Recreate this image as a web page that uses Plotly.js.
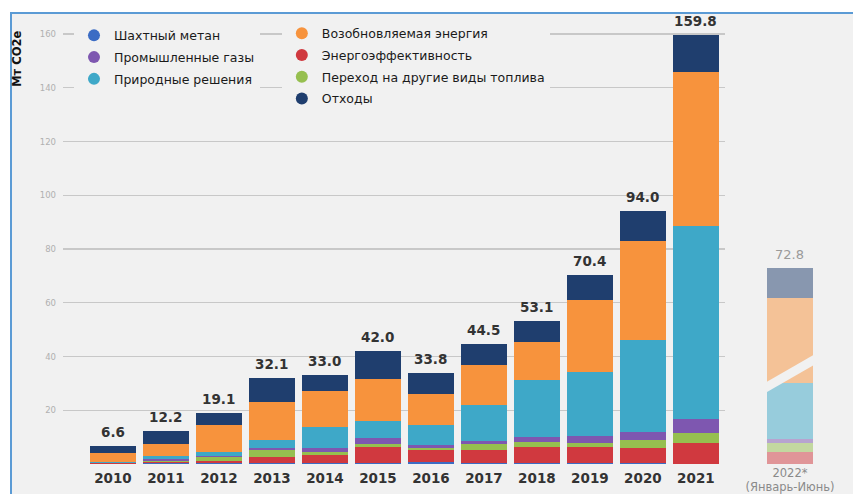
<!DOCTYPE html>
<html>
<head>
<meta charset="utf-8">
<script src="https://cdn.plot.ly/plotly-3.0.1.min.js"></script>
<style>
  html, body { margin: 0; padding: 0; background: #ffffff; }
  #frame { position: absolute; left: 10px; top: 12px; width: 843px; height: 482px;
           background: #f1f1f1; border-top: 2px solid #5b9bd5; border-left: 2px solid #5b9bd5; box-sizing: border-box; }
  #chart { position: absolute; left: 0; top: 0; width: 853px; height: 494px; }
</style>
</head>
<body>
<div id="frame"></div>
<div id="chart"></div>
<script>
// ---- data ----
const years = ['2010','2011','2012','2013','2014','2015','2016','2017','2018','2019','2020','2021'];
const methane       = [0.1,0.2,0.2,0.2,0.2,0.4,0.7,0.4,0.4,0.2,0.3,0.0];
const energyEff     = [0.2,0.6,1.1,2.5,3.2,5.8,4.4,4.8,6.0,6.2,5.7,7.7];
const fuelSwitch    = [0.1,0.5,1.2,2.5,1.0,1.2,0.9,2.3,1.9,1.6,2.9,3.7];
const industrialGas = [0.1,0.6,0.6,0.6,1.5,2.2,1.0,1.0,1.9,2.5,2.9,5.2];
const nature        = [0.2,1.2,1.5,3.0,7.8,6.5,7.6,13.6,21.2,23.8,34.5,72.0];
const renewable     = [3.3,4.5,10.0,14.3,13.3,15.6,11.6,14.8,13.9,26.7,36.6,57.1];
const waste         = [2.6,4.6,4.5,9.0,6.0,10.3,7.6,7.6,7.8,9.4,11.1,14.1];
const totals        = [6.6,12.2,19.1,32.1,33.0,42.0,33.8,44.5,53.1,70.4,94.0,159.8];

const period2022 = ['2022*<br>(Январь-Июнь)'];
const methane22 = [0.0], energyEff22 = [4.3], fuelSwitch22 = [3.4], industrialGas22 = [1.6],
      nature22 = [20.7], renewable22 = [31.9], waste22 = [10.9];
const total22 = [72.8];

const yTicks = [20,40,60,80,100,120,140,160];

// ---- series definitions (bottom to top) ----
const series = [
  {name:'Шахтный метан', color:'#3b6cc4', v:methane, v22:methane22},
  {name:'Энергоэффективность', color:'#d0393f', v:energyEff, v22:energyEff22},
  {name:'Переход на другие виды топлива', color:'#96bf4f', v:fuelSwitch, v22:fuelSwitch22},
  {name:'Промышленные газы', color:'#7e57b0', v:industrialGas, v22:industrialGas22},
  {name:'Природные решения', color:'#3ea8c8', v:nature, v22:nature22},
  {name:'Возобновляемая энергия', color:'#f7933d', v:renewable, v22:renewable22},
  {name:'Отходы', color:'#1f3e6e', v:waste, v22:waste22}
];

const traces = [];
series.forEach(s => {
  traces.push({type:'bar', x:years, y:s.v, name:s.name, marker:{color:s.color, line:{width:0}},
               showlegend:false, hoverinfo:'y+name', xaxis:'x', yaxis:'y'});
  traces.push({type:'bar', x:period2022, y:s.v22, name:s.name, marker:{color:s.color, opacity:0.5, line:{width:0}},
               showlegend:false, hoverinfo:'y+name', xaxis:'x2', yaxis:'y2'});
});
// legend entries (circles), ordered as in the reference
const legOrder = [
  ['legend', 'Шахтный метан'], ['legend', 'Промышленные газы'], ['legend', 'Природные решения'],
  ['legend2','Возобновляемая энергия'], ['legend2','Энергоэффективность'],
  ['legend2','Переход на другие виды топлива'], ['legend2','Отходы']
];
legOrder.forEach(([lg, nm], i) => {
  const s = series.find(d => d.name === nm);
  traces.push({type:'scatter', mode:'markers', x:[null], y:[null], name:nm, legend:lg, legendgroup:'g'+i,
               marker:{symbol:'circle', size:12, color:s.color}, showlegend:true, hoverinfo:'skip',
               xaxis:'x', yaxis:'y'});
});

const legendCommon = {
  orientation:'v', xanchor:'left', yanchor:'top', bgcolor:'#f1f1f1', borderwidth:0, tracegroupgap:2.5,
  font:{family:'DejaVu Sans', size:12.5, color:'#1a1a1a'}, itemsizing:'trace', traceorder:'grouped'
};

// total labels as annotations above each bar (x given as category index)
const annotations = years.map((yr, i) => ({
  xref:'x', yref:'y', x:i, y:totals[i], text:totals[i].toFixed(1), showarrow:false,
  xanchor:'center', yanchor:'bottom', yshift:4,
  font:{family:'DejaVu Sans', size:13.5, color:'#333333', weight:'bold'}
}));
annotations.push({xref:'x2', yref:'y2', x:0, y:total22[0], text:total22[0].toFixed(1), showarrow:false,
  xanchor:'center', yanchor:'bottom', yshift:4, font:{family:'DejaVu Sans', size:13, color:'#9a9a9a'}});
annotations.push({text:'Мт CO2e', xref:'paper', yref:'y', x:-0.058, y:162, xanchor:'center', yanchor:'top',
  textangle:-90, showarrow:false, font:{family:'DejaVu Sans', size:11.5, color:'#111111', weight:'bold'}});

const layout = {
  width:853, height:494,
  margin:{l:63, r:0, t:26, b:30},
  paper_bgcolor:'rgba(0,0,0,0)', plot_bgcolor:'rgba(0,0,0,0)',
  barmode:'stack', bargap:0.132,
  font:{family:'DejaVu Sans'},
  xaxis:{domain:[0, 0.838], type:'category', range:[-0.943, 11.55], showgrid:false, zeroline:false,
         showline:false, ticks:'', tickfont:{family:'DejaVu Sans', size:13.5, color:'#333333', weight:'bold'},
         ticklabelstandoff:4, fixedrange:true},
  yaxis:{range:[0,163], tickvals:yTicks, showgrid:true, gridcolor:'#c8c8c8', gridwidth:1.3, zeroline:false,
         showline:false, ticks:'', tickfont:{family:'DejaVu Sans', size:8.5, color:'#b0b0b0'},
         ticklabelstandoff:6, fixedrange:true},
  xaxis2:{domain:[0.8867, 0.9538], type:'category', range:[-0.5,0.5], anchor:'y2', showgrid:false,
          zeroline:false, showline:false, ticks:'',
          tickfont:{family:'DejaVu Sans', size:11.5, color:'#8a8a8a'}, ticklabelstandoff:0, fixedrange:true},
  yaxis2:{range:[0,163], anchor:'x2', visible:false, showgrid:false, fixedrange:true},
  legend: Object.assign({}, legendCommon, {x:0.0139, y:1.012}),
  legend2: Object.assign({}, legendCommon, {x:0.277, y:1.017}),
  shapes:[
    {type:'line', xref:'x2', yref:'y2', x0:-0.55, y0:27.4, x1:0.55, y1:39.9,
     line:{color:'#f1f1f1', width:9}, layer:'above'}
  ],
  annotations: annotations
};

Plotly.newPlot('chart', traces, layout, {displayModeBar:false, staticPlot:true});
</script>
</body>
</html>
